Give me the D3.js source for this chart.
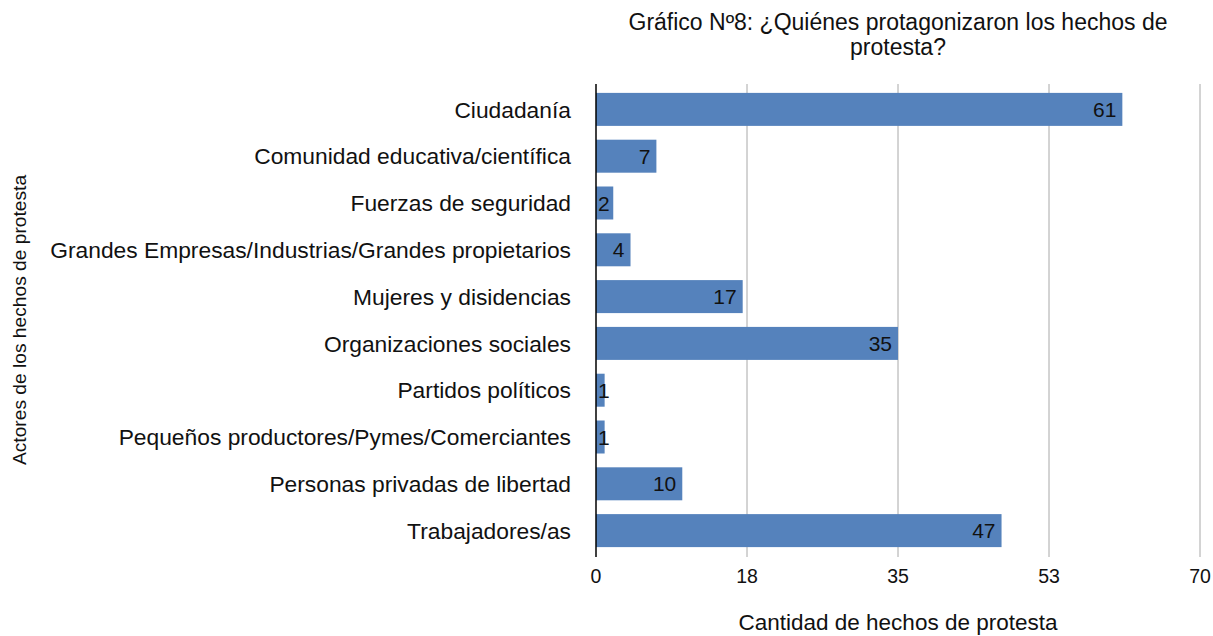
<!DOCTYPE html>
<html lang="es">
<head>
<meta charset="UTF-8">
<title>Gráfico Nº8</title>
<script src="https://cdn.jsdelivr.net/npm/d3@7"></script>
<style>
  body { margin: 0; background: #fff; }
  text { font-family: "Liberation Sans", Arial, Helvetica, sans-serif; fill: #111; }
</style>
</head>
<body>
<svg id="chart"></svg>
<script>
  var categories = ["Ciudadanía", "Comunidad educativa/científica", "Fuerzas de seguridad",
    "Grandes Empresas/Industrias/Grandes propietarios", "Mujeres y disidencias",
    "Organizaciones sociales", "Partidos políticos",
    "Pequeños productores/Pymes/Comerciantes", "Personas privadas de libertad",
    "Trabajadores/as"];
  var values = [61, 7, 2, 4, 17, 35, 1, 1, 10, 47];
  var tickValues = [0, 17.5, 35, 52.5, 70];
  var tickLabels = ["0", "18", "35", "53", "70"];

  var W = 1213, H = 636;
  var margin = {top: 84, right: 13, bottom: 80, left: 596};
  var width = W - margin.left - margin.right,
      height = H - margin.top - margin.bottom;

  var svg = d3.select("#chart").attr("width", W).attr("height", H);
  var g = svg.append("g").attr("transform", "translate(" + margin.left + "," + margin.top + ")");

  var x = d3.scaleLinear().domain([0, 70]).range([0, width]);
  var y = d3.scaleBand().domain(categories).range([0, height]).paddingInner(0.295).paddingOuter(0.19);

  // gridlines
  g.selectAll(".grid").data(tickValues.slice(1)).enter().append("line")
    .attr("x1", function(d) { return x(d); }).attr("x2", function(d) { return x(d); })
    .attr("y1", 0).attr("y2", height + 1)
    .attr("stroke", "#a8a8a8").attr("stroke-width", 1);

  // bars
  g.selectAll(".bar").data(values).enter().append("rect")
    .attr("x", 0)
    .attr("y", function(d, i) { return y(categories[i]); })
    .attr("width", function(d) { return x(d); })
    .attr("height", y.bandwidth())
    .attr("fill", "#5582bc");

  // value labels
  g.selectAll(".val").data(values).enter().append("text")
    .attr("text-anchor", "end")
    .attr("y", function(d, i) { return y(categories[i]) + y.bandwidth() / 2; })
    .attr("dy", "0.36em")
    .style("font-size", "21px")
    .text(function(d) { return d; })
    .attr("x", function(d) {
      var w = this.getComputedTextLength();
      return Math.max(x(d) - 6, w + 2);
    });

  // y axis line
  g.append("line").attr("x1", 0).attr("x2", 0).attr("y1", 0).attr("y2", height + 1)
    .attr("stroke", "#000").attr("stroke-width", 1.5);

  // category labels
  g.selectAll(".cat").data(categories).enter().append("text")
    .attr("x", -25)
    .attr("y", function(d) { return y(d) + y.bandwidth() / 2; })
    .attr("dy", "0.36em")
    .attr("text-anchor", "end")
    .style("font-size", "22.8px")
    .text(function(d) { return d; });

  // x tick labels
  g.selectAll(".tick").data(tickValues).enter().append("text")
    .attr("x", function(d) { return x(d); })
    .attr("y", height + 27)
    .attr("text-anchor", "middle")
    .style("font-size", "19.5px")
    .text(function(d, i) { return tickLabels[i]; });

  // axis titles
  svg.append("text")
    .attr("x", margin.left + width / 2).attr("y", 630)
    .attr("text-anchor", "middle").style("font-size", "22.5px")
    .text("Cantidad de hechos de protesta");

  svg.append("text")
    .attr("transform", "translate(26," + (margin.top + height / 2) + ") rotate(-90)")
    .attr("text-anchor", "middle").style("font-size", "19.2px")
    .text("Actores de los hechos de protesta");

  // title
  var title = svg.append("text").attr("text-anchor", "middle").style("font-size", "23px");
  title.append("tspan").attr("x", margin.left + width / 2).attr("y", 30)
    .text("Gráfico Nº8: ¿Quiénes protagonizaron los hechos de");
  title.append("tspan").attr("x", margin.left + width / 2).attr("y", 55)
    .text("protesta?");
</script>
</body>
</html>
